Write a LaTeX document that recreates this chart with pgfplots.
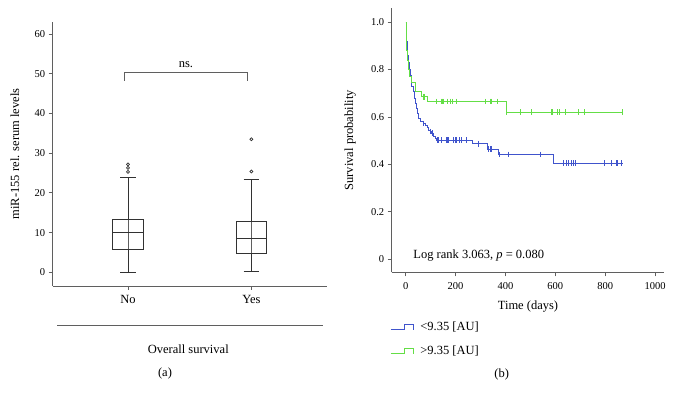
\documentclass[border=0pt]{standalone}
\usepackage{fontspec}
\setmainfont{Liberation Serif}
\usepackage{pgfplots}
\pgfplotsset{compat=1.18}
\usepgfplotslibrary{statistics}
\definecolor{kmblue}{RGB}{64,84,204}
\definecolor{kmgreen}{RGB}{100,222,70}
\definecolor{axgray}{RGB}{95,95,95}
\definecolor{boxdark}{RGB}{50,50,50}
\newcommand{\lblfont}{\fontsize{12.5}{14}\selectfont}
\newcommand{\tckfont}{\fontsize{10.5}{12}\selectfont}

\begin{document}
\begin{tikzpicture}[font=\lblfont]
\path[use as bounding box] (0pt,0pt) rectangle (673pt,401pt);

% ---------------- (a) box plots ----------------
\begin{axis}[
  at={(52.7pt,115pt)}, anchor=south west, scale only axis,
  width=274pt, height=264.3pt,
  xmin=-0.61, xmax=1.61, ymin=-3.45, ymax=63.1,
  axis lines=left, axis line style={-, axgray, line width=0.8pt},
  tick align=outside, tick style={axgray, line width=0.8pt}, major tick length=4pt,
  xtick={0,1}, xticklabels={No,Yes},
  xticklabel style={font=\lblfont, yshift=-2pt},
  ytick={0,10,...,60},
  /pgf/number format/assume math mode=true,
  yticklabel style={font=\tckfont},
  ylabel={miR-155 rel. serum levels},
  ylabel style={at={(axis description cs:-0.1376,0.5)}, anchor=center, font=\lblfont},
  clip=false,
  boxplot/draw direction=y,
]
% whisker lines through boxes
\addplot[axgray, line width=0.8pt] coordinates {(0,0) (0,23.9)};
\addplot[axgray, line width=0.8pt] coordinates {(1,0.25) (1,23.4)};
% box No
\addplot[boxdark, line width=0.8pt, mark=o, mark size=1.5pt, mark options={line width=0.7pt},
  boxplot prepared={draw position=0, median=9.97, upper quartile=13.35, lower quartile=5.87,
    upper whisker=23.9, lower whisker=0, box extend=0.25, whisker extend=0.127}]
  coordinates {(0,25.3) (0,26.3) (0,27.2)};
% box Yes
\addplot[boxdark, line width=0.8pt, mark=o, mark size=1.5pt, mark options={line width=0.7pt},
  boxplot prepared={draw position=1, median=8.64, upper quartile=12.85, lower quartile=4.78,
    upper whisker=23.4, lower whisker=0.25, box extend=0.25, whisker extend=0.127}]
  coordinates {(1,25.4) (1,33.5)};
% significance bracket
\addplot[axgray, line width=0.8pt] coordinates {(-0.03,48.2) (-0.03,50.4) (0.965,50.4) (0.965,48.2)};
\node[anchor=base] at (axis cs:0.47,51.6) {ns.};
\end{axis}
\draw[axgray, line width=0.8pt] (57.3pt,75.3pt) -- (322.7pt,75.3pt);
\node at (188.3pt,52pt) {Overall survival};
\node at (165pt,27.7pt) {(a)};

% ---------------- (b) Kaplan-Meier ----------------
\begin{axis}[
  at={(391.7pt,128.7pt)}, anchor=south west, scale only axis,
  width=272.3pt, height=264pt,
  xmin=-56, xmax=1036, ymin=-0.055, ymax=1.058,
  axis lines=left, axis line style={-, axgray, line width=0.8pt},
  tick align=outside, tick style={axgray, line width=0.8pt}, major tick length=4pt,
  xtick={0,200,...,1000},
  ytick={0,0.2,0.4,0.6,0.8,1.0}, yticklabels={0,0.2,0.4,0.6,0.8,1.0},
  /pgf/number format/assume math mode=true,
  /pgf/number format/1000 sep={},
  ticklabel style={font=\tckfont},
  xticklabel style={yshift=-2.5pt},
  xlabel={Time (days)},
  xlabel style={at={(axis description cs:0.5005,-0.130)}, anchor=center, font=\lblfont},
  ylabel={Survival probability},
  ylabel style={at={(axis description cs:-0.153,0.5)}, anchor=center, font=\lblfont},
  legend style={at={(axis description cs:-0.005,-0.18)}, anchor=north west, draw=none, fill=none,
    inner sep=0pt, row sep=10pt, font=\lblfont},
  legend cell align=left,
  legend image code/.code={\draw[#1, line width=0.8pt] (0pt,-2.5pt) -- (13pt,-2.5pt) -- (13pt,2.5pt) -- (22pt,2.5pt) -- (22pt,-2.5pt);},
  clip=false,
]
% low group (blue)
\addplot[kmblue, line width=0.8pt, const plot] coordinates {
 (0,1.0) (1,0.94) (3,0.917) (5,0.89) (8,0.86) (11,0.83) (14,0.80) (17,0.777) (21,0.75)
 (25,0.727) (30,0.706) (35,0.68) (40,0.655) (44,0.636) (48,0.615) (51,0.594) (58,0.58)
 (70,0.573) (80,0.566) (86,0.555) (91,0.545) (98,0.538) (104,0.531) (110,0.52) (118,0.51)
 (124,0.502) (269,0.487) (326,0.465) (371,0.442) (592,0.406) (870,0.406)};
\addlegendentry{\hspace{5pt}<9.35 [AU]}
% high group (green)
\addplot[kmgreen, line width=0.8pt, const plot] coordinates {
 (0,1.0) (1,0.93) (4,0.88) (7,0.84) (10,0.80) (14,0.77) (21,0.744) (40,0.706) (62,0.685)
 (86,0.665) (405,0.62) (870,0.62)};
\addlegendentry{\hspace{5pt}>9.35 [AU]}
% censor marks blue
\addplot[kmblue, only marks, mark=|, mark size=2.8pt, mark options={line width=0.7pt}, forget plot] coordinates {
 (72,0.573) (100,0.538) (106,0.531) (128,0.502) (133,0.502) (144,0.502) (164,0.502) (168,0.502)
 (171,0.502) (191,0.502) (198,0.502) (205,0.502) (215,0.502) (225,0.502) (245,0.502)
 (291,0.487) (331,0.465) (338,0.465) (345,0.465) (375,0.442) (412,0.442) (539,0.442)
 (632,0.406) (643,0.406) (652,0.406) (663,0.406) (672,0.406) (682,0.406) (797,0.406)
 (823,0.406) (844,0.406) (849,0.406) (866,0.406)};
% censor marks green
\addplot[kmgreen, only marks, mark=|, mark size=2.8pt, mark options={line width=0.7pt}, forget plot] coordinates {
 (71,0.685) (75,0.685) (124,0.665) (144,0.665) (147,0.665) (151,0.665) (167,0.665) (178,0.665)
 (188,0.665) (205,0.665) (318,0.665) (338,0.665) (345,0.665) (367,0.665)
 (405,0.62) (458,0.62) (503,0.62) (583,0.62) (590,0.62) (610,0.62) (616,0.62) (642,0.62)
 (692,0.62) (718,0.62) (870,0.62)};
\node[anchor=west] at (axis cs:17,0.014) {Log rank 3.063, \textit{p} = 0.080};
\end{axis}
\node at (501.7pt,26.7pt) {(b)};
\end{tikzpicture}
\end{document}
